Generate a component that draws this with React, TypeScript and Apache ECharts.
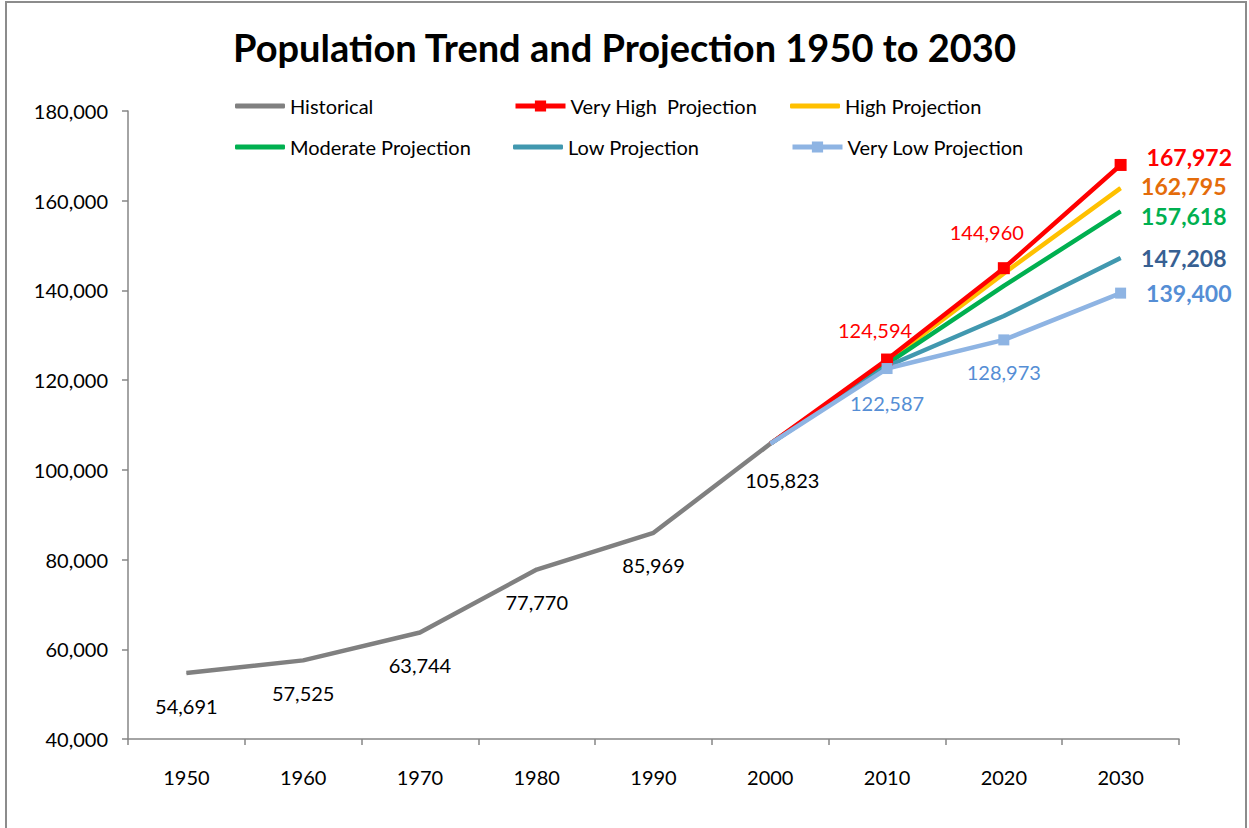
import React, { useEffect, useRef } from "react";
import * as echarts from "echarts";

const years = ["1950", "1960", "1970", "1980", "1990", "2000", "2010", "2020", "2030"];
const historical = [54691, 57525, 63744, 77770, 85969, 105823, null, null, null];
const veryHigh = [null, null, null, null, null, 105823, 124594, 144960, 167972];
const high = [null, null, null, null, null, 105823, 124100, 143800, 162795];
const moderate = [null, null, null, null, null, 105823, 123600, 141000, 157618];
const low = [null, null, null, null, null, 105823, 123100, 134300, 147208];
const veryLow = [null, null, null, null, null, 105823, 122587, 128973, 139400];
const yTicks = { min: 40000, max: 180000, interval: 20000 };

const FONT = "Lato, 'Noto Sans', sans-serif";
const fmt = (v: number) => v.toLocaleString("en-US");

const endLabel = (color: string, offsetY = 0) => ({
  show: true,
  position: "right",
  distance: 20,
  offset: [0, offsetY],
  color,
  fontSize: 23,
  lineHeight: 24,
  fontWeight: "bold",
  fontFamily: FONT,
  formatter: (p: any) => fmt(p.value),
});

export default function App() {
  const ref = useRef<HTMLDivElement>(null);
  useEffect(() => {
    document.body.style.margin = "0";
    const chart = echarts.init(ref.current!, null, { renderer: "svg" });

    const histData = historical.map((v, i) => ({
      value: v,
      symbol: "circle",
      symbolSize: 1,
      label: {
        show: v != null,
        position: "bottom",
        distance: 22,
        offset: i === 5 ? [12, 4] : [0, 0],
        color: "#000",
        fontSize: 20,
        fontFamily: FONT,
        formatter: (p: any) => fmt(p.value),
      },
    }));

    const vhData = veryHigh.map((v, i) => {
      if (i === 5) return { value: v, symbol: "none" };
      if (i === 6)
        return {
          value: v,
          label: { show: true, position: "top", distance: 14, offset: [-12, 0], color: "#FF0000", fontSize: 20, fontFamily: FONT, formatter: (p: any) => fmt(p.value) },
        };
      if (i === 7)
        return {
          value: v,
          label: { show: true, position: "top", distance: 20, offset: [-17, 0], color: "#FF0000", fontSize: 20, fontFamily: FONT, formatter: (p: any) => fmt(p.value) },
        };
      if (i === 8) return { value: v, label: endLabel("#FF0000", -8) };
      return { value: v };
    });

    const plain = (arr: (number | null)[], color: string, dy = 0) =>
      arr.map((v, i) =>
        i === 8 ? { value: v, symbol: "circle", symbolSize: 1, label: endLabel(color, dy) } : { value: v }
      );

    const vlData = veryLow.map((v, i) => {
      if (i === 5) return { value: v, symbol: "none" };
      if (i === 6 || i === 7)
        return {
          value: v,
          label: { show: true, position: "bottom", distance: i === 6 ? 19 : 17, color: "#558ED5", fontSize: 20, fontFamily: FONT, formatter: (p: any) => fmt(p.value) },
        };
      if (i === 8) return { value: v, label: endLabel("#558ED5") };
      return { value: v };
    });

    const legendBase = {
      itemWidth: 50,
      padding: 0,
      textStyle: { fontSize: 20, fontFamily: FONT, color: "#000" },
    };
    const legends = [
      { name: "Historical", left: 235, top: 96, plainIcon: true },
      { name: "Very High  Projection", left: 513, top: 96, plainIcon: false },
      { name: "High Projection", left: 790, top: 96, plainIcon: true },
      { name: "Moderate Projection", left: 235, top: 137, plainIcon: true },
      { name: "Low Projection", left: 513, top: 137, plainIcon: true },
      { name: "Very Low Projection", left: 790, top: 137, plainIcon: false },
    ].map((l) => ({
      ...legendBase,
      itemHeight: l.plainIcon ? 5 : 14,
      lineStyle: { width: 5 },
      data: [l.plainIcon ? { name: l.name, icon: "roundRect" } : { name: l.name }],
      left: l.left,
      top: l.top,
    }));

    const lineSeries = (name: string, data: any[], color: string, extra: any = {}) => ({
      name,
      type: "line",
      data,
      symbol: "none",
      showSymbol: true,
      connectNulls: false,
      lineStyle: { width: 4.5, color },
      itemStyle: { color },
      ...extra,
    });

    chart.setOption({
      animation: false,
      backgroundColor: "#fff",
      title: {
        text: "Population Trend and Projection 1950 to 2030",
        left: "center",
        top: 23,
        textStyle: { fontSize: 38, fontWeight: "bold", fontFamily: FONT, color: "#000" },
      },
      legend: legends,
      grid: { left: 128, right: 70, top: 111, bottom: 89, containLabel: false },
      xAxis: {
        type: "category",
        data: years,
        boundaryGap: true,
        axisLine: { lineStyle: { color: "#868686", width: 1.5 } },
        axisTick: { show: true, length: 6, lineStyle: { color: "#868686", width: 1.5 } },
        axisLabel: { fontSize: 20, fontFamily: FONT, color: "#000", margin: 28 },
        splitLine: { show: false },
      },
      yAxis: {
        type: "value",
        min: yTicks.min,
        max: yTicks.max,
        interval: yTicks.interval,
        axisLine: { show: true, lineStyle: { color: "#868686", width: 1.5 } },
        axisTick: { show: true, length: 6, lineStyle: { color: "#868686", width: 1.5 } },
        axisLabel: { fontSize: 20, fontFamily: FONT, color: "#000", margin: 20, formatter: (v: number) => fmt(v) },
        splitLine: { show: false },
      },
      graphic: [
        {
          type: "rect",
          shape: { x: 6, y: 2, width: 1240, height: 840 },
          style: { fill: "none", stroke: "#8c8c8c", lineWidth: 2 },
          silent: true,
        },
      ],
      series: [
        lineSeries("Historical", histData, "#808080"),
        lineSeries("Very High  Projection", vhData, "#FF0000", { symbol: "rect", symbolSize: 12, z: 4 }),
        lineSeries("High Projection", plain(high, "#E46C0A", -2), "#FFC000", { z: 3 }),
        lineSeries("Moderate Projection", plain(moderate, "#00B050", 5), "#00B050", { z: 3 }),
        lineSeries("Low Projection", plain(low, "#376092"), "#4198AF", { z: 3 }),
        lineSeries("Very Low Projection", vlData, "#8EB4E3", { symbol: "rect", symbolSize: 11, z: 4 }),
      ],
    });
    return () => chart.dispose();
  }, []);
  return <div ref={ref} style={{ width: 1249, height: 828 }} />;
}
